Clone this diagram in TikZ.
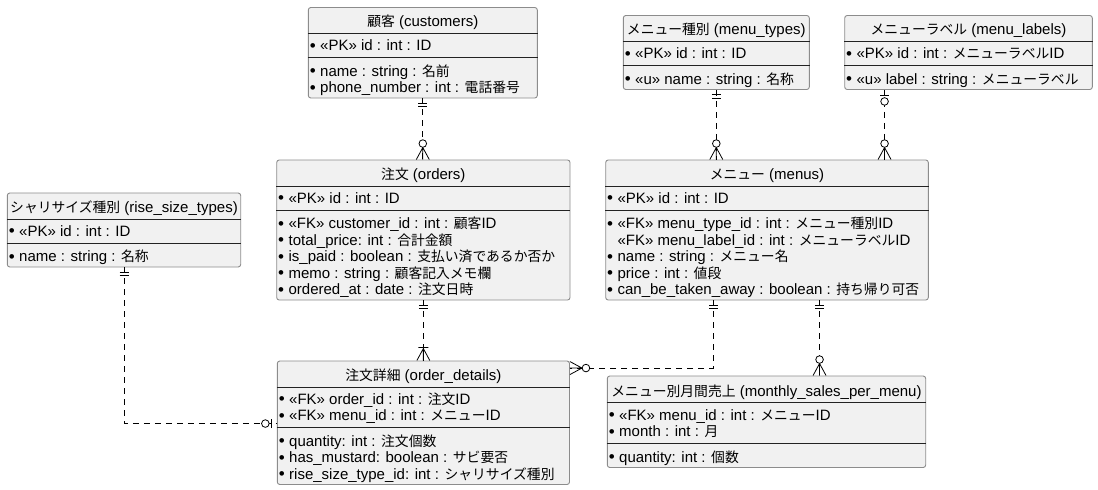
\documentclass[tikz,border=0pt]{standalone}
\usepackage{fontspec}
\setmainfont{Liberation Sans}
\newfontfamily\jafont{Noto Sans CJK JP}[Scale=0.92]
\newcommand{\ja}[1]{{\jafont #1}}
\newcommand{\bul}{\makebox[11.4pt][l]{\hspace{1pt}\raisebox{-0.7pt}[0pt][0pt]{\fontsize{17}{17}\selectfont •}}}
\usetikzlibrary{decorations.markings,calc}
\definecolor{boxfill}{HTML}{F1F1F1}
\definecolor{boxline}{HTML}{8C8C8C}
\definecolor{sepline}{HTML}{222222}

% relation ends, drawn with x pointing away from the box
\newcommand{\mkone}{\draw[solid] (4.5pt,-4.5pt) -- (4.5pt,4.5pt) (8pt,-4.5pt) -- (8pt,4.5pt);}
\newcommand{\mkzeroone}{\draw[solid] (5pt,-4.5pt) -- (5pt,4.5pt); \draw[solid, fill=white] (11.5pt,0pt) circle (3.8pt);}
\newcommand{\mkzeromany}{\draw[solid] (0pt,-6.5pt) -- (12pt,0pt) -- (0pt,6.5pt) (0pt,0pt) -- (12pt,0pt); \draw[solid, fill=white] (16pt,0pt) circle (3.8pt);}
\newcommand{\mkonemany}{\draw[solid] (0pt,-6.5pt) -- (12pt,0pt) -- (0pt,6.5pt) (0pt,0pt) -- (12pt,0pt) (13pt,-5pt) -- (13pt,5pt);}

\tikzset{
  entity/.style={draw=boxline, fill=boxfill, line width=0.9pt, rounded corners=2.5pt, inner sep=0pt},
  sep/.style={draw=sepline, line width=0.9pt},
  etitle/.style={anchor=base, inner sep=0pt, yshift=-5pt, text height=11pt, text depth=3.5pt, font=\fontsize{15}{16.5}\selectfont},
  attr/.style={anchor=base west, inner sep=0pt, yshift=-5pt, text height=11pt, text depth=3.5pt, font=\fontsize{15}{16.5}\selectfont},
  rel/.style={line width=0.8pt, dash pattern=on 6pt off 5pt},
  one at start/.style={postaction={decorate, decoration={markings, mark=at position 0 with {\mkone}}}},
  zone at start/.style={postaction={decorate, decoration={markings, mark=at position 0 with {\mkzeroone}}}},
  zmany at end/.style={postaction={decorate, decoration={markings, mark=at position 1 with {\begin{scope}[xscale=-1]\mkzeromany\end{scope}}}}},
  omany at end/.style={postaction={decorate, decoration={markings, mark=at position 1 with {\begin{scope}[xscale=-1]\mkonemany\end{scope}}}}},
  zone at end/.style={postaction={decorate, decoration={markings, mark=at position 1 with {\begin{scope}[xscale=-1]\mkzeroone\end{scope}}}}}
}

\begin{document}
\begin{tikzpicture}[x=1pt,y=-1pt]
\useasboundingbox (0,0) rectangle (1098,490);

% customers
\node[entity, minimum width=229pt, minimum height=90.5pt] (cust) at (422.8,52.75) {};
\node[etitle] (cust-t) at (cust.center |- 0,21.5) {\ja{顧客} (customers)};
\draw[sep] (cust.west |- 0,33.5) -- (cust.east |- 0,33.5);
\draw[sep] (cust.west |- 0,57.5) -- (cust.east |- 0,57.5);
\node[attr] (cust-pk) at (308.6,45.5) {\bul «PK» id : int : ID};
\node[attr] (cust-1) at (308.6,71) {\bul name : string : \ja{名前}};
\node[attr] (cust-2) at (308.6,87.5) {\bul phone\_number : int : \ja{電話番号}};

% menu types
\node[entity, minimum width=186pt, minimum height=74pt] (mtype) at (716.3,52.5) {};
\node[etitle] (mtype-t) at (mtype.center |- 0,29.5) {\ja{メニュー種別} (menu\_types)};
\draw[sep] (mtype.west |- 0,41.5) -- (mtype.east |- 0,41.5);
\draw[sep] (mtype.west |- 0,65.5) -- (mtype.east |- 0,65.5);
\node[attr] (mtype-pk) at (623.6,53.5) {\bul «PK» id : int : ID};
\node[attr] (mtype-1) at (623.6,79) {\bul «u» name : string : \ja{名称}};

% menu labels
\node[entity, minimum width=247.6pt, minimum height=74pt] (mlabel) at (968.5,52.5) {};
\node[etitle] (mlabel-t) at (mlabel.center |- 0,29.5) {\ja{メニューラベル} (menu\_labels)};
\draw[sep] (mlabel.west |- 0,41.5) -- (mlabel.east |- 0,41.5);
\draw[sep] (mlabel.west |- 0,65.5) -- (mlabel.east |- 0,65.5);
\node[attr] (mlabel-pk) at (845,53.5) {\bul «PK» id : int : \ja{メニューラベル}ID};
\node[attr] (mlabel-1) at (845,79) {\bul «u» label : string : \ja{メニューラベル}};

% orders
\node[entity, minimum width=293.3pt, minimum height=140pt] (ord) at (423.35,230) {};
\node[etitle] (ord-t) at (ord.center |- 0,174) {\ja{注文} (orders)};
\draw[sep] (ord.west |- 0,186) -- (ord.east |- 0,186);
\draw[sep] (ord.west |- 0,210) -- (ord.east |- 0,210);
\node[attr] (ord-pk) at (277,198) {\bul «PK» id : int : ID};
\node[attr] (ord-1) at (277,223.5) {\bul «FK» customer\_id : int : \ja{顧客}ID};
\node[attr] (ord-2) at (277,240) {\bul total\_price: int : \ja{合計金額}};
\node[attr] (ord-3) at (277,256.5) {\bul is\_paid : boolean : \ja{支払い済であるか否か}};
\node[attr] (ord-4) at (277,273) {\bul memo : string : \ja{顧客記入メモ欄}};
\node[attr] (ord-5) at (277,289.5) {\bul ordered\_at : date : \ja{注文日時}};

% menus
\node[entity, minimum width=322.6pt, minimum height=140pt] (menu) at (767,230) {};
\node[etitle] (menu-t) at (menu.center |- 0,174) {\ja{メニュー} (menus)};
\draw[sep] (menu.west |- 0,186) -- (menu.east |- 0,186);
\draw[sep] (menu.west |- 0,210) -- (menu.east |- 0,210);
\node[attr] (menu-pk) at (606,198) {\bul «PK» id : int : ID};
\node[attr] (menu-1) at (606,223.5) {\bul «FK» menu\_type\_id : int : \ja{メニュー種別}ID};
\node[attr] (menu-2) at (606,240) {\hphantom{\bul}«FK» menu\_label\_id : int : \ja{メニューラベル}ID};
\node[attr] (menu-3) at (606,256.5) {\bul name : string : \ja{メニュー名}};
\node[attr] (menu-4) at (606,273) {\bul price : int : \ja{値段}};
\node[attr] (menu-5) at (606,289.5) {\bul can\_be\_taken\_away : boolean : \ja{持ち帰り可否}};

% rise size types
\node[entity, minimum width=233.4pt, minimum height=74pt] (rise) at (124,230) {};
\node[etitle] (rise-t) at (rise.center |- 0,207) {\ja{シャリサイズ種別} (rise\_size\_types)};
\draw[sep] (rise.west |- 0,219) -- (rise.east |- 0,219);
\draw[sep] (rise.west |- 0,243) -- (rise.east |- 0,243);
\node[attr] (rise-pk) at (7.6,231) {\bul «PK» id : int : ID};
\node[attr] (rise-1) at (7.6,256.5) {\bul name : string : \ja{名称}};

% order details
\node[entity, minimum width=292.2pt, minimum height=123.5pt] (odet) at (423.4,422.75) {};
\node[etitle] (odet-t) at (odet.center |- 0,375) {\ja{注文詳細} (order\_details)};
\draw[sep] (odet.west |- 0,387) -- (odet.east |- 0,387);
\draw[sep] (odet.west |- 0,427.5) -- (odet.east |- 0,427.5);
\node[attr] (odet-k1) at (277.6,399) {\bul «FK» order\_id : int : \ja{注文}ID};
\node[attr] (odet-k2) at (277.6,415.5) {\bul «FK» menu\_id : int : \ja{メニュー}ID};
\node[attr] (odet-1) at (277.6,441) {\bul quantity: int : \ja{注文個数}};
\node[attr] (odet-2) at (277.6,457.5) {\bul has\_mustard: boolean : \ja{サビ要否}};
\node[attr] (odet-3) at (277.6,474) {\bul rise\_size\_type\_id: int : \ja{シャリサイズ種別}};

% monthly sales per menu
\node[entity, minimum width=318.4pt, minimum height=91.5pt] (msale) at (766.5,421.75) {};
\node[etitle] (msale-t) at (msale.center |- 0,391) {\ja{メニュー別月間売上} (monthly\_sales\_per\_menu)};
\draw[sep] (msale.west |- 0,402.5) -- (msale.east |- 0,402.5);
\draw[sep] (msale.west |- 0,443) -- (msale.east |- 0,443);
\node[attr] (msale-k1) at (607.6,415) {\bul «FK» menu\_id : int : \ja{メニュー}ID};
\node[attr] (msale-k2) at (607.6,431.5) {\bul month : int : \ja{月}};
\node[attr] (msale-1) at (607.6,457) {\bul quantity: int : \ja{個数}};

% relations
\draw[rel, one at start, zmany at end] (cust.south) -- (cust.south |- ord.north);
\draw[rel, one at start, zmany at end] (mtype.south) -- (mtype.south |- menu.north);
\coordinate (mlabel-s) at ($(mlabel.south west)+(40.3,0)$);
\draw[rel, zone at start, zmany at end] (mlabel-s) -- (mlabel-s |- menu.north);
\draw[rel, one at start, omany at end] (ord.south) -- (ord.south |- odet.north);
\coordinate (menu-s1) at ($(menu.south west)+(108.3,0)$);
\coordinate (odet-e) at ($(odet.north east)+(0,7.5)$);
\draw[rel, one at start, zmany at end] (menu-s1) |- (odet-e);
\coordinate (menu-s2) at ($(menu.south west)+(214.3,0)$);
\draw[rel, one at start, zmany at end] (menu-s2) -- (menu-s2 |- msale.north);
\coordinate (odet-w) at ($(odet.north west)+(0,63)$);
\draw[rel, one at start, zone at end] (rise.south) |- (odet-w);
\end{tikzpicture}
\end{document}
